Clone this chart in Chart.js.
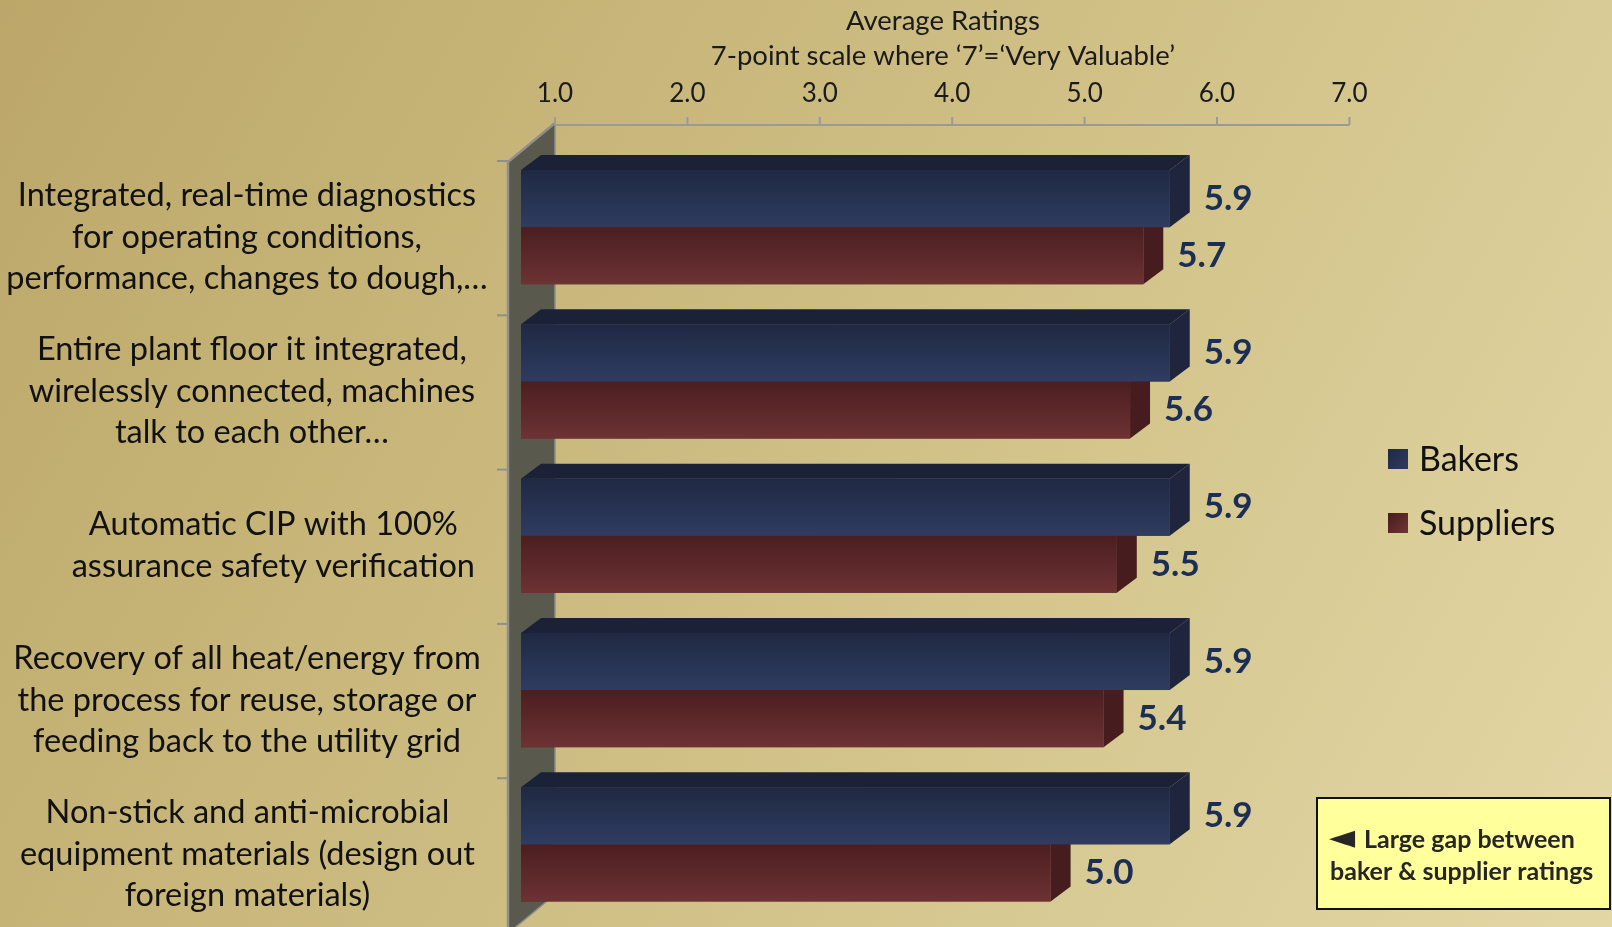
<!DOCTYPE html>
<html>
<head>
<meta charset="utf-8">
<title>Average Ratings</title>
<script src="https://cdn.jsdelivr.net/npm/chart.js@4/dist/chart.umd.min.js"></script>
<style>
  html, body { margin: 0; padding: 0; background: #cdbc82; }
  canvas { display: block; }
</style>
</head>
<body>
<canvas id="chart" width="1612" height="927"></canvas>
<script>
// --- Data ---
const categories = [
  ['Integrated, real-time diagnostics', 'for operating conditions,', 'performance, changes to dough,…'],
  ['Entire plant floor it integrated,', 'wirelessly connected, machines', 'talk to each other…'],
  ['Automatic CIP with 100%', 'assurance safety verification'],
  ['Recovery of all heat/energy from', 'the process for reuse, storage or', 'feeding back to the utility grid'],
  ['Non-stick and anti-microbial', 'equipment materials (design out', 'foreign materials)']
];
const seriesNames = ['Bakers', 'Suppliers'];
const bakers = [5.9, 5.9, 5.9, 5.9, 5.9];
const suppliers = [5.7, 5.6, 5.5, 5.4, 5.0];
const xTicks = [1, 2, 3, 4, 5, 6, 7];
const axisTitle = ['Average Ratings', '7-point scale where ‘7’=‘Very Valuable’'];
const noteArrow = '◄';
const noteLines = ['Large gap between', 'baker & supplier ratings'];

// --- Look ---
const palette = [
  { top: '#1b2237', side: '#1e253d', front: ['#1f2943', '#2f3c60'], key: ['#1f2846', '#2f3b5f'] },
  { top: '#3b1819', side: '#471c1e', front: ['#4b1e20', '#6d3234'], key: ['#471b1d', '#713536'] }
];
const depth = { dx: 20, dy: -15 };      // front face -> back face of a bar
const wallOffset = { dx: 34, dy: -29 }; // bar front face -> back wall plane
const textFont = 'Lato, "Open Sans", sans-serif';

function poly(ctx, pts) {
  ctx.beginPath();
  ctx.moveTo(pts[0][0], pts[0][1]);
  for (let i = 1; i < pts.length; i++) ctx.lineTo(pts[i][0], pts[i][1]);
  ctx.closePath();
  ctx.fill();
}

const backdrop = {
  id: 'backdrop',
  beforeDraw(chart) {
    const { ctx, width, height, chartArea, scales } = chart;
    ctx.save();
    const bg = ctx.createLinearGradient(0, 0, width, height);
    bg.addColorStop(0, '#bca769');
    bg.addColorStop(0.5, '#cfbf84');
    bg.addColorStop(1, '#e3d7a6');
    ctx.fillStyle = bg;
    ctx.fillRect(0, 0, width, height);

    // left side wall of the 3D plot
    const band = (chartArea.bottom - chartArea.top) / categories.length;
    const backX = chartArea.left + wallOffset.dx;
    const backTop = chartArea.top + wallOffset.dy + 2;
    const backBottom = backTop + band * categories.length;
    const frontX = backX - 47;
    const frontTop = backTop + 39;
    const frontBottom = backBottom + 39;
    ctx.fillStyle = '#5a594d';
    poly(ctx, [[frontX, frontTop], [backX, backTop], [backX, backBottom], [frontX, frontBottom]]);
    ctx.strokeStyle = '#8f8f8c';
    ctx.lineWidth = 2.5;
    ctx.beginPath();
    ctx.moveTo(frontX, frontBottom);
    ctx.lineTo(frontX, frontTop);
    ctx.lineTo(backX, backTop);
    ctx.stroke();
    ctx.lineWidth = 1.5;
    ctx.beginPath();
    ctx.moveTo(backX, backTop);
    ctx.lineTo(backX, backBottom);
    ctx.lineTo(frontX, frontBottom);
    ctx.stroke();

    // category ticks on the wall edge
    ctx.lineWidth = 2;
    for (let i = 0; i <= categories.length; i++) {
      const ty = frontTop - 1 + i * band;
      ctx.beginPath();
      ctx.moveTo(frontX - 11, ty);
      ctx.lineTo(frontX, ty);
      ctx.stroke();
    }

    // value axis along the top of the back wall
    const x = scales.x;
    const axisY = backTop + 2;
    const ax0 = x.getPixelForValue(xTicks[0]) + wallOffset.dx;
    const ax1 = x.getPixelForValue(xTicks[xTicks.length - 1]) + wallOffset.dx;
    ctx.strokeStyle = '#9a9a96';
    ctx.lineWidth = 2;
    ctx.beginPath();
    ctx.moveTo(ax0, axisY);
    ctx.lineTo(ax1, axisY);
    ctx.stroke();
    ctx.fillStyle = '#1a1a1a';
    ctx.font = '26px ' + textFont;
    ctx.textAlign = 'center';
    ctx.textBaseline = 'middle';
    xTicks.forEach(v => {
      const tx = x.getPixelForValue(v) + wallOffset.dx;
      ctx.beginPath();
      ctx.moveTo(tx, axisY);
      ctx.lineTo(tx, axisY - 8);
      ctx.stroke();
      ctx.fillText(v.toFixed(1), tx, 94);
    });

    // axis title
    ctx.font = '27.5px ' + textFont;
    ctx.fillText(axisTitle[0], 943, 21);
    ctx.fillText(axisTitle[1], 943, 56);
    ctx.restore();
  },

  afterDatasetsDraw(chart) {
    const { ctx } = chart;
    ctx.save();
    // lower series first so the upper bar's front face hides its top and side
    for (let d = chart.data.datasets.length - 1; d >= 0; d--) {
      const pal = palette[d];
      chart.getDatasetMeta(d).data.forEach(bar => {
        const top = bar.y - bar.height / 2;
        const bottom = bar.y + bar.height / 2;
        const left = bar.base;
        const right = bar.x;
        ctx.fillStyle = pal.side;
        poly(ctx, [[right, top], [right + depth.dx, top + depth.dy], [right + depth.dx, bottom + depth.dy], [right, bottom]]);
        ctx.fillStyle = pal.top;
        poly(ctx, [[left, top], [left + depth.dx, top + depth.dy], [right + depth.dx, top + depth.dy], [right, top]]);
        const g = ctx.createLinearGradient(0, top, 0, bottom);
        g.addColorStop(0, pal.front[0]);
        g.addColorStop(1, pal.front[1]);
        ctx.fillStyle = g;
        ctx.fillRect(left, top, right - left, bottom - top);
      });
    }

    // value labels
    ctx.font = 'bold 35px ' + textFont;
    ctx.fillStyle = '#1b2e55';
    ctx.textAlign = 'left';
    ctx.textBaseline = 'middle';
    chart.data.datasets.forEach((ds, d) => {
      chart.getDatasetMeta(d).data.forEach((bar, i) => {
        ctx.fillText(ds.data[i].toFixed(1), bar.x + depth.dx + 14, bar.y);
      });
    });
    ctx.restore();
  },

  afterDraw(chart) {
    const { ctx, scales } = chart;
    ctx.save();

    // category labels, each block centred and right-limited at the wall
    ctx.font = '32.5px ' + textFont;
    ctx.fillStyle = '#111111';
    ctx.textAlign = 'center';
    ctx.textBaseline = 'middle';
    const lineGap = 41.5;
    categories.forEach((lines, i) => {
      const cy = scales.y.getPixelForValue(i) + 10;
      const maxW = Math.min(456, Math.max(...lines.map(l => ctx.measureText(l).width)));
      const cx = 475 - maxW / 2;
      lines.forEach((l, k) => {
        ctx.fillText(l, cx, cy + (k - (lines.length - 1) / 2) * lineGap);
      });
    });

    // legend
    ctx.font = '34px ' + textFont;
    ctx.textAlign = 'left';
    seriesNames.forEach((name, d) => {
      const ky = 449 + d * 64;
      const g = ctx.createLinearGradient(1388, ky, 1408, ky + 20);
      g.addColorStop(0, palette[d].key[0]);
      g.addColorStop(1, palette[d].key[1]);
      ctx.fillStyle = g;
      ctx.fillRect(1388, ky, 20, 20);
      ctx.fillStyle = '#111111';
      ctx.fillText(name, 1419, ky + 11);
    });

    // note box
    ctx.fillStyle = '#ffff9c';
    ctx.fillRect(1317, 798, 293, 111);
    ctx.strokeStyle = '#111111';
    ctx.lineWidth = 2;
    ctx.strokeRect(1317, 798, 293, 111);
    ctx.fillStyle = '#262626';
    ctx.font = '34px "DejaVu Sans", sans-serif';
    ctx.fillText(noteArrow, 1329, 839);
    ctx.font = 'bold 25px ' + textFont;
    ctx.fillText(noteLines[0], 1364, 840);
    ctx.fillText(noteLines[1], 1330, 872);
    ctx.restore();
  }
};

new Chart(document.getElementById('chart'), {
  type: 'bar',
  data: {
    labels: categories,
    datasets: [
      { label: seriesNames[0], data: bakers, base: 1, backgroundColor: '#2a3655' },
      { label: seriesNames[1], data: suppliers, base: 1, backgroundColor: '#5e2a2c' }
    ]
  },
  options: {
    indexAxis: 'y',
    responsive: false,
    animation: false,
    categoryPercentage: 0.74,
    barPercentage: 1,
    layout: { padding: { left: 521, right: 296.6, top: 150, bottom: 5.5 } },
    scales: {
      x: { type: 'linear', min: 1, max: 7, display: false },
      y: { type: 'category', display: false }
    },
    plugins: {
      legend: { display: false },
      tooltip: { enabled: false }
    }
  },
  plugins: [backdrop]
});
</script>
</body>
</html>
